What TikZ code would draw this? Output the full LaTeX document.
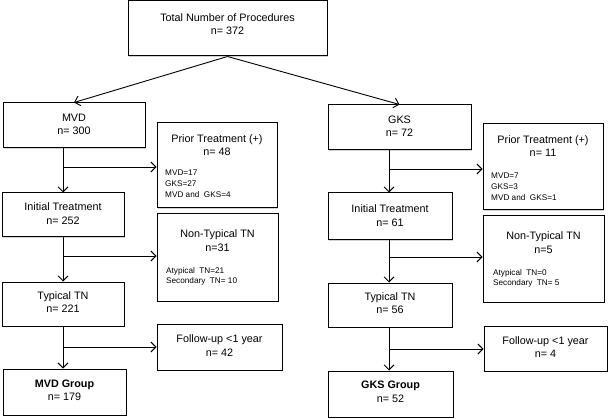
\documentclass[tikz,border=0pt]{standalone}
\usepackage{fontspec}
\setmainfont{Liberation Sans}
\usetikzlibrary{arrows.meta,shadows}
\begin{document}
\begin{tikzpicture}[x=1pt,y=-1pt,
  box/.style={draw=black,line width=1pt,fill=white,inner sep=0pt,
    drop shadow={fill=black!35,opacity=.5,shadow xshift=0.8pt,shadow yshift=-0.8pt}},
  txt/.style={align=center,inner sep=0pt,font=\fontsize{10.8}{13.5}\selectfont},
  small/.style={align=left,inner sep=0pt,anchor=west,font=\fontsize{8.2}{10.8}\selectfont},
  line/.style={line width=0.9pt},
  arr/.style={line width=0.9pt,-{Straight Barb[length=5pt,width=10pt]}}]
\useasboundingbox (0,0) rectangle (609,419);
% boxes
\node[box,minimum width=199pt,minimum height=55pt] (top) at (227.5,28.5) {};
\node[box,minimum width=142pt,minimum height=45pt] (mvd) at (74,125.5) {};
\node[box,minimum width=143pt,minimum height=45pt] (gks) at (399.5,127.5) {};
\node[box,minimum width=120pt,minimum height=85pt] (prior1) at (217,165.5) {};
\node[box,minimum width=120pt,minimum height=86pt] (prior2) at (543,167) {};
\node[box,minimum width=122pt,minimum height=44pt] (init1) at (63,215) {};
\node[box,minimum width=124pt,minimum height=47pt] (init2) at (390,216.5) {};
\node[box,minimum width=121pt,minimum height=87pt] (non1) at (217.5,257.5) {};
\node[box,minimum width=121pt,minimum height=86pt] (non2) at (543.5,259) {};
\node[box,minimum width=122pt,minimum height=44pt] (typ1) at (63,304) {};
\node[box,minimum width=124pt,minimum height=44pt] (typ2) at (390,305) {};
\node[box,minimum width=125pt,minimum height=46pt] (fol1) at (219.5,347) {};
\node[box,minimum width=123pt,minimum height=45pt] (fol2) at (545.5,348.5) {};
\node[box,minimum width=123pt,minimum height=46pt] (grp1) at (64.5,392) {};
\node[box,minimum width=125pt,minimum height=46pt] (grp2) at (390.5,394) {};
% texts
\node[txt] (ttop) at (227.5,24) {Total Number of Procedures\\n= 372};
\node[txt] (tmvd) at (74,124.5) {MVD\\n= 300};
\node[txt] (tgks) at (399.5,126) {GKS\\n= 72};
\node[txt] (tprior1) at (217,145) {Prior Treatment (+)\\n= 48};
\node[small] (lprior1) at (165,184) {MVD=17\\GKS=27\\MVD and~ GKS=4};
\node[txt] (tprior2) at (543,146) {Prior Treatment (+)\\n= 11};
\node[small] (lprior2) at (491,186.5) {MVD=7\\GKS=3\\MVD and~ GKS=1};
\node[txt] (tinit1) at (63,213.5) {Initial Treatment\\n= 252};
\node[txt] (tinit2) at (390,215.5) {Initial Treatment\\n= 61};
\node[txt] (tnon1) at (217.5,240.5) {Non-Typical TN\\n=31};
\node[small,font=\fontsize{8.2}{10}\selectfont] (lnon1) at (166,276.5) {Atypical~ TN=21\\Secondary~ TN= 10};
\node[txt] (tnon2) at (543.5,242.5) {Non-Typical TN\\n=5};
\node[small,font=\fontsize{8.2}{10}\selectfont] (lnon2) at (493,278) {Atypical~ TN=0\\Secondary~ TN= 5};
\node[txt] (ttyp1) at (63,302) {Typical TN\\n= 221};
\node[txt] (ttyp2) at (390,303) {Typical TN\\n= 56};
\node[txt] (tfol1) at (219.5,345.5) {Follow-up <1 year\\n= 42};
\node[txt] (tfol2) at (545.5,347) {Follow-up <1 year\\n= 4};
\node[txt] (tgrp1) at (64.5,390.5) {\textbf{MVD Group}\\n= 179};
\node[txt] (tgrp2) at (390.5,392) {\textbf{GKS Group}\\n= 52};
% top split
\draw[arr] (top.south) -- (mvd.north);
\draw[arr] (top.south) -- (gks.north);
% left column
\coordinate (b1) at (63,167);
\coordinate (b2) at (63,256);
\coordinate (b3) at (63,347);
\draw[arr] (init1.north |- mvd.south) -- (init1.north);
\draw[arr] (b1) -- (b1 -| prior1.west);
\draw[arr] (init1.south) -- (typ1.north);
\draw[arr] (b2) -- (b2 -| non1.west);
\draw[arr] (typ1.south) -- (grp1.north -| typ1.south);
\draw[arr] (b3) -- (b3 -| fol1.west);
% right column
\coordinate (c1) at (389,169);
\coordinate (c2) at (389,257);
\coordinate (c3) at (389,349);
\draw[arr] (c1 |- gks.south) -- (c1 |- init2.north);
\draw[arr] (c1) -- (c1 -| prior2.west);
\draw[arr] (c1 |- init2.south) -- (c1 |- typ2.north);
\draw[arr] (c2) -- (c2 -| non2.west);
\draw[arr] (c1 |- typ2.south) -- (c1 |- grp2.north);
\draw[arr] (c3) -- (c3 -| fol2.west);
\end{tikzpicture}
\end{document}
